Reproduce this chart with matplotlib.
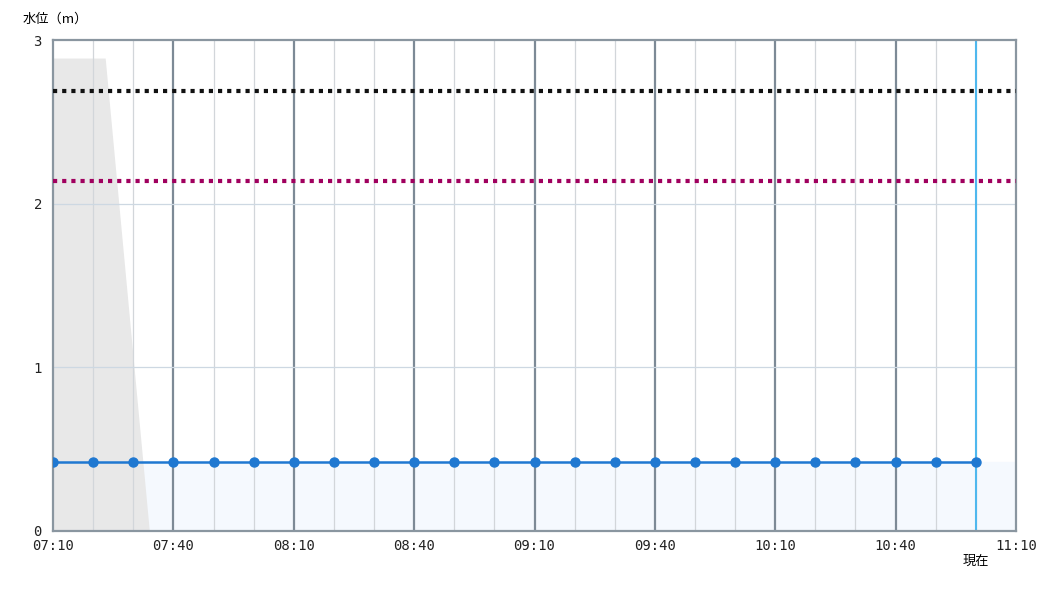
import numpy as np
import matplotlib.pyplot as plt

# 時刻（07:10 からの分）と水位
minutos = list(range(0, 231, 10))  # 07:10 .. 11:00
nivel = [0.42] * 24
etiquetas_x = ['07:10', '07:40', '08:10', '08:40', '09:10', '09:40', '10:10', '10:40', '11:10']
ticks_x = [0, 30, 60, 90, 120, 150, 180, 210, 240]
ticks_y = [0, 1, 2, 3]

# 基準水位
nivel_negro = 2.69
nivel_morado = 2.14

# 灰色の領域
gris_x = [0, 13, 24]
gris_y = [2.89, 2.89, 0]

ahora = 230

plt.rcParams['font.family'] = ['DejaVu Sans Mono', 'Noto Sans CJK JP']

fig = plt.figure(figsize=(10.5, 6), dpi=100)
ax = fig.add_axes([0.0505, 0.115, 0.9171, 0.8183])

ax.set_xlim(0, 240)
ax.set_ylim(0, 3)

# 背景の塗り
ax.fill_between([0, 240], [0.42, 0.42], 0, color='#f5f9fe', zorder=0)
ax.fill_between(gris_x, gris_y, 0, color='#e8e8e8', zorder=0.5, linewidth=0)

# グリッド
for m in range(10, 240, 10):
    if m % 30 == 0:
        ax.axvline(m, color='#7d8a96', linewidth=1.6, zorder=1)
    else:
        ax.axvline(m, color='#d2d6da', linewidth=0.9, zorder=1)
for v in [1, 2]:
    ax.axhline(v, color='#cdd8e2', linewidth=0.9, zorder=1)

ax.axvline(ahora, color='#4fb8ee', linewidth=1.5, zorder=2)

ax.axhline(nivel_negro, color='#111111', linewidth=3, linestyle=(0, (1, 1.2)), zorder=3)
ax.axhline(nivel_morado, color='#a0005e', linewidth=3, linestyle=(0, (1, 1.2)), zorder=3)

ax.plot(minutos, nivel, color='#1f78d1', linewidth=1.8, marker='o', markersize=6.5, zorder=4)

for s in ax.spines.values():
    s.set_color('#8a96a0')
    s.set_linewidth(1.6)

ax.set_xticks(ticks_x)
ax.set_xticklabels(etiquetas_x)
ax.set_yticks(ticks_y)
ax.tick_params(length=0, labelsize=10, colors='#222222')
ax.tick_params(axis='x', pad=6)
ax.tick_params(axis='y', pad=8)

ax.text(-0.032, 1.03, '水位（m）', transform=ax.transAxes, fontsize=9.5,
        family=['Noto Sans CJK JP', 'DejaVu Sans'], ha='left', va='bottom')
ax.text(ahora, -0.048, '現在', transform=ax.get_xaxis_transform(), fontsize=9.5,
        family=['Noto Sans CJK JP', 'DejaVu Sans'], ha='center', va='top')

fig.savefig('out.png', dpi=100)
